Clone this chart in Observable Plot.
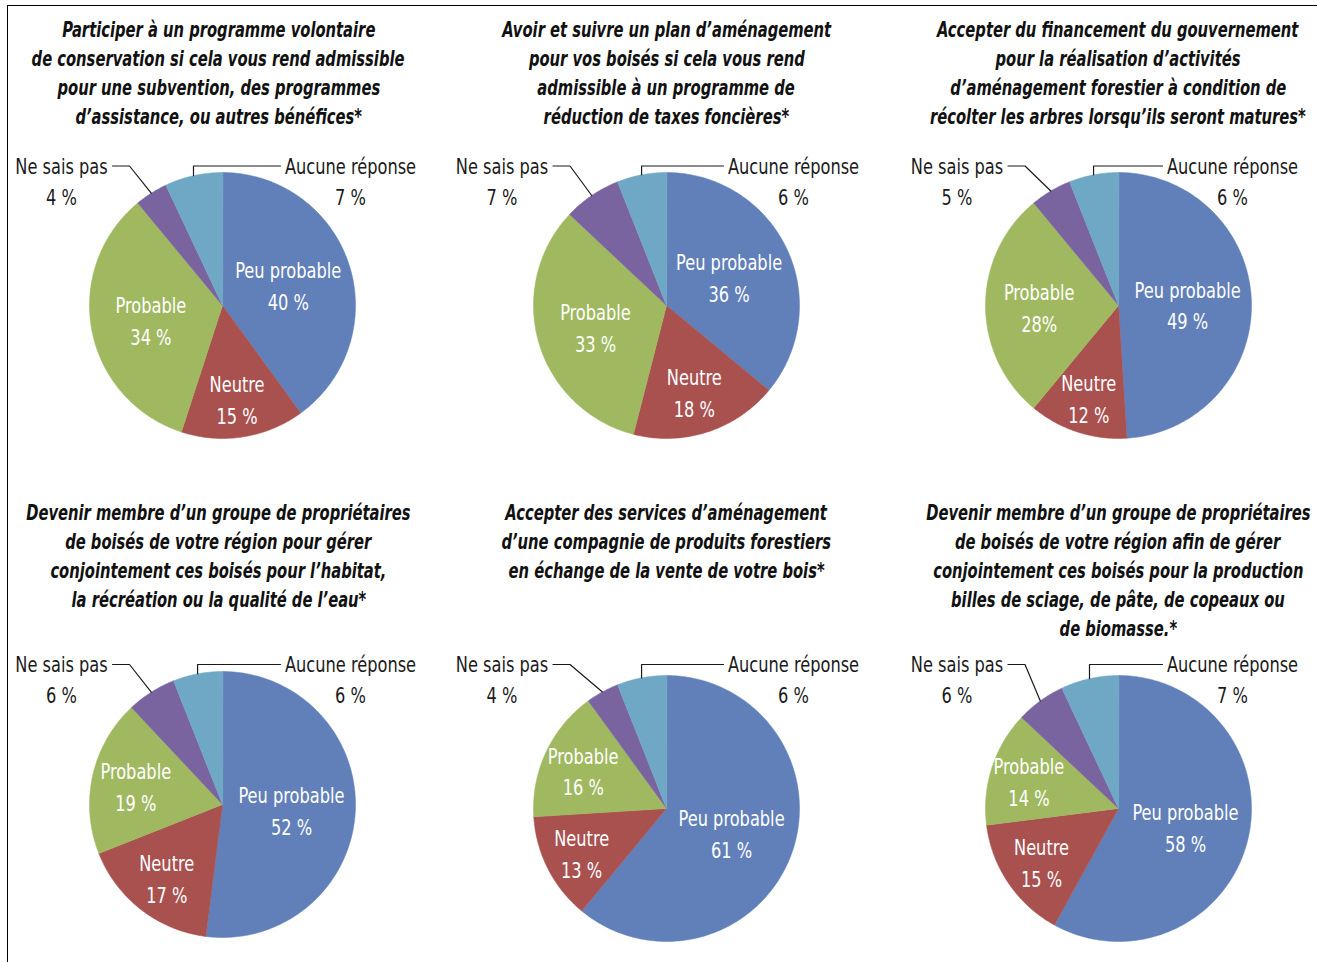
<!DOCTYPE html>
<html>
<head>
<meta charset="utf-8">
<script src="https://cdn.jsdelivr.net/npm/d3@7"></script>
<script src="https://cdn.jsdelivr.net/npm/@observablehq/plot@0.6"></script>
<style>
  html, body { margin: 0; padding: 0; background: #fff; }
  body { width: 1317px; height: 962px; overflow: hidden; position: relative;
         font-family: "DejaVu Sans Condensed", "DejaVu Sans", sans-serif; }
  .frame { position: absolute; left: 7px; top: 5px; width: 1400px; height: 1000px;
           border: 1.6px solid #000; box-sizing: border-box; }
  .title { position: absolute; width: 700px; text-align: center; font-weight: bold;
           font-style: italic; font-size: 21px; line-height: 29px; color: #111; white-space: nowrap; }
  .title span { display: inline-block; transform: scaleX(0.78); transform-origin: 50% 50%; }
  .pie { position: absolute; }
</style>
</head>
<body>
<div class="frame"></div>
<div id="charts"></div>
<script>
// ---------- data ----------
const categories = ["Peu probable", "Neutre", "Probable", "Ne sais pas", "Aucune réponse"];
const sliceColors = ["#6180B9", "#A8514F", "#A0B961", "#7A64A0", "#6FA8C5"];

const titles = [
  ["Participer à un programme volontaire", "de conservation si cela vous rend admissible", "pour une subvention, des programmes", "d’assistance, ou autres bénéfices*"],
  ["Avoir et suivre un plan d’aménagement", "pour vos boisés si cela vous rend", "admissible à un programme de", "réduction de taxes foncières*"],
  ["Accepter du financement du gouvernement", "pour la réalisation d’activités", "d’aménagement forestier à condition de", "récolter les arbres lorsqu’ils seront matures*"],
  ["Devenir membre d’un groupe de propriétaires", "de boisés de votre région pour gérer", "conjointement ces boisés pour l’habitat,", "la récréation ou la qualité de l’eau*"],
  ["Accepter des services d’aménagement", "d’une compagnie de produits forestiers", "en échange de la vente de votre bois*"],
  ["Devenir membre d’un groupe de propriétaires", "de boisés de votre région afin de gérer", "conjointement ces boisés pour la production", "billes de sciage, de pâte, de copeaux ou", "de biomasse.*"]
];

const values1 = [40, 15, 34, 4, 7];
const values2 = [36, 18, 33, 7, 6];
const values3 = [49, 12, 28, 5, 6];
const values4 = [52, 17, 19, 6, 6];
const values5 = [61, 13, 16, 4, 6];
const values6 = [58, 15, 14, 6, 7];

const labels1 = ["40 %", "15 %", "34 %", "4 %", "7 %"];
const labels2 = ["36 %", "18 %", "33 %", "7 %", "6 %"];
const labels3 = ["49 %", "12 %", "28%", "5 %", "6 %"];
const labels4 = ["52 %", "17 %", "19 %", "6 %", "6 %"];
const labels5 = ["61 %", "13 %", "16 %", "4 %", "6 %"];
const labels6 = ["58 %", "15 %", "14 %", "6 %", "7 %"];

const allValues = [values1, values2, values3, values4, values5, values6];
const allLabels = [labels1, labels2, labels3, labels4, labels5, labels6];

// ---------- layout ----------
const FONT = "'DejaVu Sans Condensed', 'DejaVu Sans', sans-serif";
const TEXT_SCALE = 0.82;
const pieCX = [221.5, 665.5, 1117.5];
const pieCY = [[304.5, 304.5, 304.5], [804, 808, 808]];
const titleCX = [218.5, 666.5, 1118];
const titleTop = [16, 499];
const TITLE_W = 700;
const leaderY = [165, 664];
const nspOffset = [-161, -164.5, -161.5];   // "Ne sais pas" label centre, px from pie centre
const arOffset = [128, 127, 114];            // "Aucune réponse" label centre
const R = 133, W = 460, H = 340, CXS = 230, CYS = 180;

const container = document.getElementById("charts");

allValues.forEach((values, i) => {
  const row = Math.floor(i / 3), col = i % 3;
  const cx = pieCX[col], cy = pieCY[row][col];

  // title
  const t = document.createElement("div");
  t.className = "title";
  t.style.left = (titleCX[col] - TITLE_W / 2) + "px";
  t.style.top = titleTop[row] + "px";
  titles[i].forEach(line => {
    const d = document.createElement("div");
    const s = document.createElement("span");
    s.textContent = line;
    d.appendChild(s);
    t.appendChild(d);
  });
  container.appendChild(t);

  // pie geometry from d3.pie (angles clockwise from 12 o'clock)
  const arcs = d3.pie().sort(null).value(d => d)(values);
  const wedges = [];
  arcs.forEach((a, k) => {
    const cat = categories[k];
    wedges.push({cat, x: 0, y: 0});
    const n = Math.max(2, Math.ceil((a.endAngle - a.startAngle) / (Math.PI / 180)));
    for (let s = 0; s <= n; s++) {
      const ang = a.startAngle + (a.endAngle - a.startAngle) * s / n;
      wedges.push({cat, x: Math.sin(ang), y: -Math.cos(ang)});
    }
  });

  const total = d3.sum(values);
  const inside = arcs.slice(0, 3).map((a, k) => {
    const p = values[k] / total;
    const f = k === 0 ? 0.52 : Math.min(0.74, 0.5 + (0.4 - p) * 0.8);
    const mid = (a.startAngle + a.endAngle) / 2;
    return {x: f * Math.sin(mid), y: -f * Math.cos(mid), text: categories[k] + "\n" + allLabels[i][k]};
  });

  const ly = (leaderY[row] - cy) / R;
  const nx = nspOffset[col] / R, ax = arOffset[col] / R;
  const outside = [
    {x: nx, y: ly + 13.5 / R, text: categories[3] + "\n" + allLabels[i][3]},
    {x: ax, y: ly + 13.5 / R, text: categories[4] + "\n" + allLabels[i][4]}
  ];

  const midN = (arcs[3].startAngle + arcs[3].endAngle) / 2;
  const midA = (arcs[4].startAngle + arcs[4].endAngle) / 2;
  const leaders = [
    {id: "n", x: nx + 51 / R, y: ly}, {id: "n", x: nx + 68 / R, y: ly},
    {id: "n", x: Math.sin(midN), y: -Math.cos(midN)},
    {id: "a", x: ax - 70 / R, y: ly}, {id: "a", x: Math.sin(midA), y: ly},
    {id: "a", x: Math.sin(midA), y: -Math.cos(midA)}
  ];

  const svg = Plot.plot({
    width: W, height: H, margin: 0,
    x: {domain: [-CXS / R, (W - CXS) / R], range: [0, W], axis: null},
    y: {domain: [-CYS / R, (H - CYS) / R], range: [0, H], axis: null},
    color: {domain: categories, range: sliceColors},
    style: {background: "transparent", overflow: "visible"},
    marks: [
      Plot.line(wedges, {x: "x", y: "y", z: "cat", fill: "cat", stroke: "cat", strokeWidth: 0.5, curve: "linear-closed"}),
      Plot.line(leaders, {x: "x", y: "y", z: "id", stroke: "#1a1a1a", strokeWidth: 1.2}),
      Plot.text(inside, {x: "x", y: "y", text: "text", fill: "white", fontSize: 22, lineHeight: 1.45, fontFamily: FONT}),
      Plot.text(outside, {x: "x", y: "y", text: "text", fill: "#1a1a1a", fontSize: 22, lineHeight: 1.4, fontFamily: FONT})
    ]
  });
  // condense the label glyphs horizontally around each label's anchor
  svg.querySelectorAll("text").forEach(el => {
    const tr = el.getAttribute("transform") || "";
    el.setAttribute("transform", tr + ` scale(${TEXT_SCALE},1)`);
  });
  svg.classList.add("pie");
  svg.style.left = (cx - CXS) + "px";
  svg.style.top = (cy - CYS) + "px";
  container.appendChild(svg);
});
</script>
</body>
</html>
